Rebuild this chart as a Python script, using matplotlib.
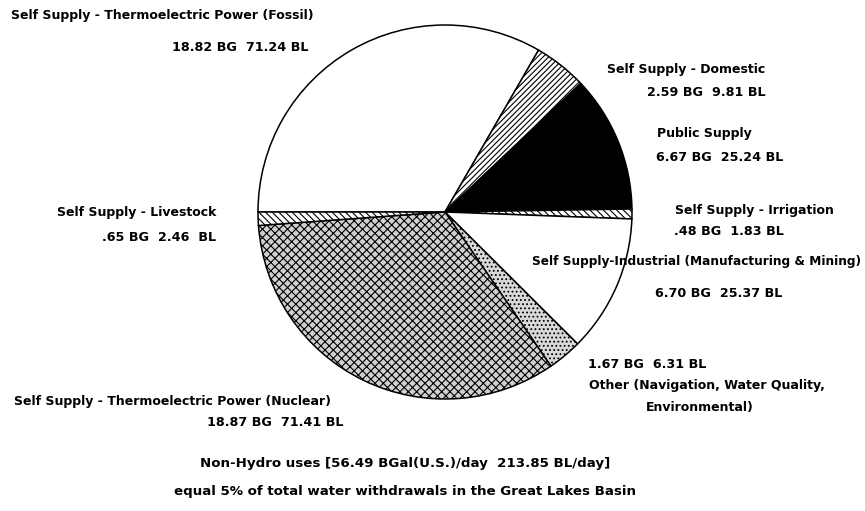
import matplotlib
matplotlib.use("Agg")
import matplotlib.pyplot as plt

categories = [
    "Self Supply - Thermoelectric Power (Fossil)",
    "Self Supply - Domestic",
    "Public Supply",
    "Self Supply - Irrigation",
    "Self Supply-Industrial (Manufacturing & Mining)",
    "Other (Navigation, Water Quality,\nEnvironmental)",
    "Self Supply - Thermoelectric Power (Nuclear)",
    "Self Supply - Livestock",
]
bg_values = [18.82, 2.59, 6.67, 0.48, 6.70, 1.67, 18.87, 0.65]
bl_values = [71.24, 9.81, 25.24, 1.83, 25.37, 6.31, 71.41, 2.46]
total_bg = 56.49
total_bl = 213.85
share_pct = 5

def fmt(v):
    s = f"{v:.2f}"
    return s[1:] if s.startswith("0") else s

value_labels = [f"{fmt(g)} BG  {fmt(l)} BL" for g, l in zip(bg_values, bl_values)]
value_labels[7] = value_labels[7].replace(" BL", "  BL")

plt.rcParams['hatch.linewidth'] = 0.8
fig = plt.figure(figsize=(8.65, 5.11), dpi=100)
ax = fig.add_axes([0, 0, 1, 1])
W, H = 865, 511

faces = ["white", "white", "black", "white", "white", "#d9d9d9", "#d0d0d0", "white"]
hatches = [None, "//////", None, "\\\\\\\\\\", None, "....", "xxxx", "\\\\\\\\\\"]

wedges, _ = ax.pie(bg_values, startangle=180, counterclock=False,
                   center=(445, H - 212), radius=187, colors=faces,
                   wedgeprops=dict(edgecolor="black", linewidth=1.1))
for w, h in zip(wedges, hatches):
    if h:
        w.set_hatch(h)
ax.set_xlim(0, W)
ax.set_ylim(0, H)
ax.set_aspect("equal")
ax.axis("off")

font = dict(family="DejaVu Sans", weight="bold", size=9.0, color="black")
vfont = dict(font, size=9.2)

# (name x, name y, value x, value y, name size) in pixel coordinates (top-left origin)
layout = [
    (11, 15, 172, 47, 9.0),
    (607, 69, 647, 92, 9.0),
    (657, 133, 656, 157, 9.0),
    (675, 210, 674, 231, 9.0),
    (532, 261, 655, 293, 8.75),
    (589, 386, 588, 365, 9.0),
    (14, 401, 207, 422, 9.0),
    (57, 212, 102, 237, 9.0),
]
for name, val, (nx, ny, vx, vy, sz) in zip(categories, value_labels, layout):
    nf = dict(font, size=sz)
    if "\n" in name:
        a, b = name.split("\n")
        ax.text(nx, H - ny, a, ha="left", va="center", **nf)
        ax.text(646, H - 408, b, ha="left", va="center", **nf)
    else:
        ax.text(nx, H - ny, name, ha="left", va="center", **nf)
    ax.text(vx, H - vy, val, ha="left", va="center", **vfont)

big = dict(font, size=9.6)
ax.text(405, H - 463, f"Non-Hydro uses [{total_bg:.2f} BGal(U.S.)/day  {total_bl:.2f} BL/day]",
        ha="center", va="center", **big)
ax.text(405, H - 491, f"equal {share_pct}% of total water withdrawals in the Great Lakes Basin",
        ha="center", va="center", **big)

fig.savefig("out.png", dpi=100)
